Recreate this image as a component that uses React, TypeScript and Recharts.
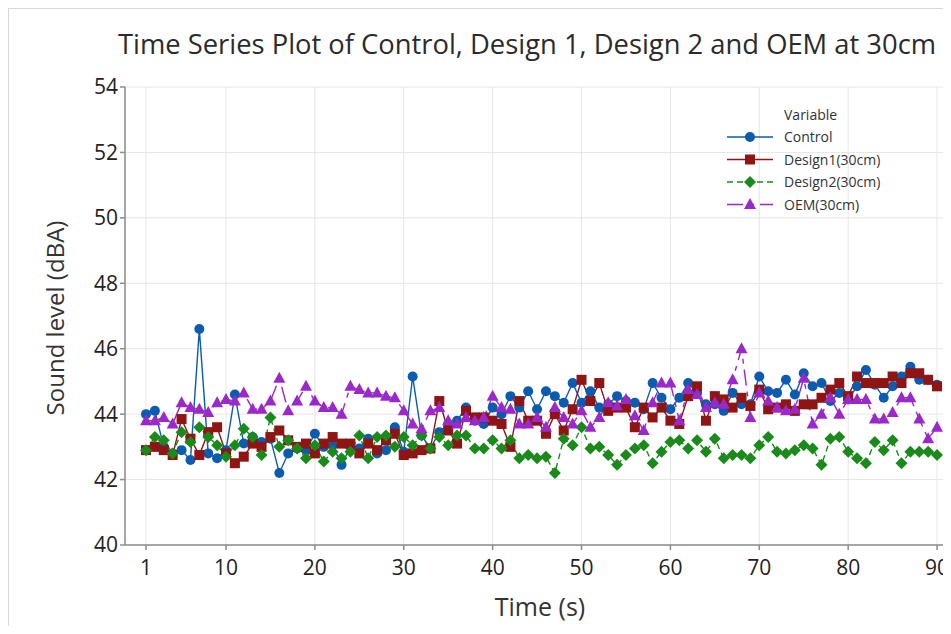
import React, { useLayoutEffect, useRef, useState } from "react";
import { LineChart, Line, XAxis, YAxis, CartesianGrid } from "recharts";

const time: number[] = Array.from({ length: 90 }, (_, i) => i + 1);

const control: number[] = [
  44.0, 44.1, 43.0, 42.8, 42.9, 42.6, 46.6, 42.8, 42.65, 42.9,
  44.6, 43.1, 43.3, 43.15, 43.25, 42.2, 42.8, 42.95, 42.9, 43.4,
  43.0, 43.05, 42.45, 43.0, 42.95, 43.25, 42.8, 42.9, 43.6, 42.85,
  45.15, 43.35, 42.95, 43.45, 43.7, 43.8, 44.2, 43.8, 43.7, 44.2,
  44.0, 44.55, 44.2, 44.7, 44.15, 44.7, 44.55, 44.35, 44.95, 44.35,
  44.7, 44.2, 44.3, 44.55, 44.4, 44.35, 44.15, 44.95, 44.5, 44.15,
  44.5, 44.95, 44.65, 44.3, 44.3, 44.1, 44.65, 44.3, 44.3, 45.15,
  44.7, 44.65, 45.05, 44.6, 45.25, 44.85, 44.95, 44.4, 44.65, 44.45,
  44.85, 45.35, 44.9, 44.5, 44.85, 45.15, 45.45, 45.05, 45.05, 44.9,
];

const design1: number[] = [
  42.9, 43.0, 42.9, 42.75, 43.85, 43.25, 42.75, 43.45, 43.6, 42.8,
  42.5, 42.7, 43.1, 43.0, 43.3, 43.5, 43.2, 43.0, 43.1, 42.8,
  43.1, 43.3, 43.1, 43.1, 42.8, 43.1, 42.9, 43.2, 43.4, 42.75,
  42.8, 42.9, 42.95, 44.4, 43.5, 43.1, 44.1, 43.9, 43.9, 43.8,
  43.7, 43.0, 44.4, 43.8, 43.8, 43.4, 44.0, 43.5, 44.15, 45.05,
  44.4, 44.95, 44.1, 44.2, 44.2, 43.6, 44.2, 43.9, 44.2, 43.8,
  43.7, 44.55, 44.85, 43.8, 44.55, 44.45, 44.2, 44.5, 44.25, 44.75,
  44.15, 44.2, 44.3, 44.1, 44.3, 44.3, 44.5, 44.75, 44.95, 44.55,
  45.15, 44.95, 44.95, 44.95, 45.15, 44.95, 45.25, 45.25, 45.05, 44.85,
];

const design2: number[] = [
  42.9, 43.3, 43.2, 42.8, 43.45, 43.15, 43.6, 43.3, 43.05, 42.7,
  43.05, 43.55, 43.3, 42.75, 43.9, 43.0, 43.2, 42.95, 42.65, 43.05,
  42.55, 42.85, 42.65, 42.85, 43.35, 42.65, 43.3, 43.35, 43.0, 43.3,
  43.05, 43.35, 42.95, 43.3, 43.05, 43.35, 43.35, 42.95, 42.95, 43.2,
  42.95, 43.2, 42.65, 42.75, 42.65, 42.7, 42.2, 43.25, 43.05, 43.6,
  42.95, 43.0, 42.75, 42.45, 42.75, 42.95, 43.05, 42.5, 42.85, 43.15,
  43.2, 42.95, 43.2, 42.85, 43.25, 42.65, 42.75, 42.75, 42.65, 43.05,
  43.3, 42.85, 42.8, 42.9, 43.05, 42.95, 42.45, 43.25, 43.3, 42.85,
  42.65, 42.5, 43.15, 42.9, 43.2, 42.5, 42.85, 42.85, 42.85, 42.75,
];

const oem: number[] = [
  43.8, 43.8, 43.9, 43.7, 44.35, 44.2, 44.15, 44.05, 44.35, 44.45,
  44.4, 44.65, 44.15, 44.15, 44.4, 45.1, 44.1, 44.4, 44.85, 44.4,
  44.2, 44.2, 44.0, 44.85, 44.75, 44.65, 44.65, 44.55, 44.5, 44.1,
  43.7, 43.55, 44.1, 44.2, 43.8, 43.7, 43.9, 43.8, 43.9, 44.55,
  44.2, 44.15, 43.7, 43.7, 43.9, 43.6, 44.2, 43.9, 43.7, 44.1,
  43.6, 43.9, 44.35, 44.25, 44.45, 43.95, 43.5, 44.35, 44.95, 44.95,
  43.8, 44.75, 44.6, 44.2, 44.35, 44.3, 45.05, 46.0, 43.9, 44.65,
  44.4, 44.2, 44.1, 44.15, 45.1, 43.7, 44.0, 44.5, 44.0, 44.45,
  44.45, 44.45, 43.85, 43.85, 44.05, 44.5, 44.5, 43.85, 43.25, 43.6,
];

const xTicks: number[] = [1, 10, 20, 30, 40, 50, 60, 70, 80, 90];
const yTicks: number[] = [40, 42, 44, 46, 48, 50, 52, 54];

const seriesNames: string[] = ["Control", "Design1(30cm)", "Design2(30cm)", "OEM(30cm)"];
const titleText = "Time Series Plot of Control, Design 1, Design 2 and OEM at 30cm";

const data = time.map((t, i) => ({
  t,
  control: control[i],
  design1: design1[i],
  design2: design2[i],
  oem: oem[i],
}));

const C_BLUE = "#0b5bb0";
const C_RED = "#8f1414";
const C_GREEN = "#1a8a1a";
const C_PURPLE = "#9b28c9";

const FONT = "'Open Sans', 'Noto Sans', sans-serif";

type Shape = "circle" | "square" | "diamond" | "triangle";

function Marker({ shape, cx, cy, color }: { shape: Shape; cx: number; cy: number; color: string }) {
  if (shape === "circle") return <circle cx={cx} cy={cy} r={5} fill={color} />;
  if (shape === "square") return <rect x={cx - 5} y={cy - 5} width={10} height={10} fill={color} />;
  if (shape === "diamond")
    return <polygon points={`${cx},${cy - 6} ${cx + 6},${cy} ${cx},${cy + 6} ${cx - 6},${cy}`} fill={color} />;
  return <polygon points={`${cx},${cy - 6.5} ${cx + 6},${cy + 4.5} ${cx - 6},${cy + 4.5}`} fill={color} />;
}

const makeDot = (shape: Shape, color: string) => (props: any) => {
  const { cx, cy, index } = props;
  if (cx == null || cy == null) return <g key={`e-${shape}-${index}`} />;
  return (
    <g key={`d-${shape}-${index}`}>
      <Marker shape={shape} cx={cx} cy={cy} color={color} />
    </g>
  );
};

const W = 943;
const H = 618;
const TITLE_X = 110;
const TITLE_Y = 46;
const TITLE_W = 818;

const legendItems: { name: string; color: string; shape: Shape; dash?: string }[] = [
  { name: seriesNames[0], color: C_BLUE, shape: "circle" },
  { name: seriesNames[1], color: C_RED, shape: "square" },
  { name: seriesNames[2], color: C_GREEN, shape: "diamond", dash: "6 4" },
  { name: seriesNames[3], color: C_PURPLE, shape: "triangle", dash: "16 6 5 6" },
];

function Title() {
  const ref = useRef<SVGTextElement>(null);
  const [sx, setSx] = useState(0.82);
  useLayoutEffect(() => {
    if (ref.current) {
      const len = ref.current.getComputedTextLength();
      if (len > 0) setSx(TITLE_W / len);
    }
  }, []);
  return (
    <text
      ref={ref}
      x={0}
      y={0}
      transform={`translate(${TITLE_X} ${TITLE_Y}) scale(${sx} 1)`}
      fontFamily={FONT}
      fontSize={28}
      fill="#2b2b2b"
    >
      {titleText}
    </text>
  );
}

export default function App() {
  return (
    <div style={{ position: "relative", width: W, height: H }}>
      <LineChart width={W} height={H} data={data} margin={{ top: 79, right: 0, bottom: 0, left: 0 }}>
        <CartesianGrid stroke="#e6e6e6" strokeWidth={1} />
        <XAxis
          dataKey="t"
          type="number"
          domain={[-1.363, 91.57]}
          allowDataOverflow
          ticks={xTicks}
          height={81}
          tickSize={5}
          tickMargin={10}
          stroke="#8c8c8c"
          strokeWidth={1.5}
          tick={{ fill: "#222", fontSize: 21, fontFamily: FONT }}
        />
        <YAxis
          type="number"
          domain={[40, 54]}
          ticks={yTicks}
          width={117}
          tickSize={5}
          tickMargin={2}
          stroke="#8c8c8c"
          strokeWidth={1.5}
          tick={{ fill: "#222", fontSize: 21, fontFamily: FONT }}
        />
        <Line
          dataKey="control"
          stroke={C_BLUE}
          strokeWidth={1.4}
          dot={makeDot("circle", C_BLUE)}
          activeDot={false}
          isAnimationActive={false}
        />
        <Line
          dataKey="design1"
          stroke={C_RED}
          strokeWidth={1.4}
          dot={makeDot("square", C_RED)}
          activeDot={false}
          isAnimationActive={false}
        />
        <Line
          dataKey="design2"
          stroke={C_GREEN}
          strokeWidth={1.4}
          strokeDasharray="6 4"
          dot={makeDot("diamond", C_GREEN)}
          activeDot={false}
          isAnimationActive={false}
        />
        <Line
          dataKey="oem"
          stroke={C_PURPLE}
          strokeWidth={1.4}
          strokeDasharray="16 6 5 6"
          dot={makeDot("triangle", C_PURPLE)}
          activeDot={false}
          isAnimationActive={false}
        />
      </LineChart>
      <svg
        width={W}
        height={H}
        style={{ position: "absolute", left: 0, top: 0, pointerEvents: "none" }}
      >
        <line x1={0} y1={0.5} x2={W} y2={0.5} stroke="#d9d9d9" strokeWidth={1} />
        <line x1={0.5} y1={0} x2={0.5} y2={H} stroke="#d9d9d9" strokeWidth={1} />
        <Title />
        <text x={532} y={608} textAnchor="middle" fontFamily={FONT} fontSize={25} fill="#333">
          Time (s)
        </text>
        <text
          x={56}
          y={310}
          textAnchor="middle"
          fontFamily={FONT}
          fontSize={24}
          fill="#333"
          transform="rotate(-90 56 310)"
        >
          Sound level (dBA)
        </text>
        <text x={776} y={112} fontFamily={FONT} fontSize={14} fill="#333">
          Variable
        </text>
        {legendItems.map((it, i) => {
          const cy = 129 + i * 22.5;
          return (
            <g key={it.name}>
              <line
                x1={719}
                y1={cy}
                x2={765}
                y2={cy}
                stroke={it.color}
                strokeWidth={1.4}
                strokeDasharray={it.dash}
              />
              <Marker shape={it.shape} cx={742} cy={cy} color={it.color} />
              <text x={776} y={cy + 5} fontFamily={FONT} fontSize={14} fill="#333">
                {it.name}
              </text>
            </g>
          );
        })}
      </svg>
    </div>
  );
}
